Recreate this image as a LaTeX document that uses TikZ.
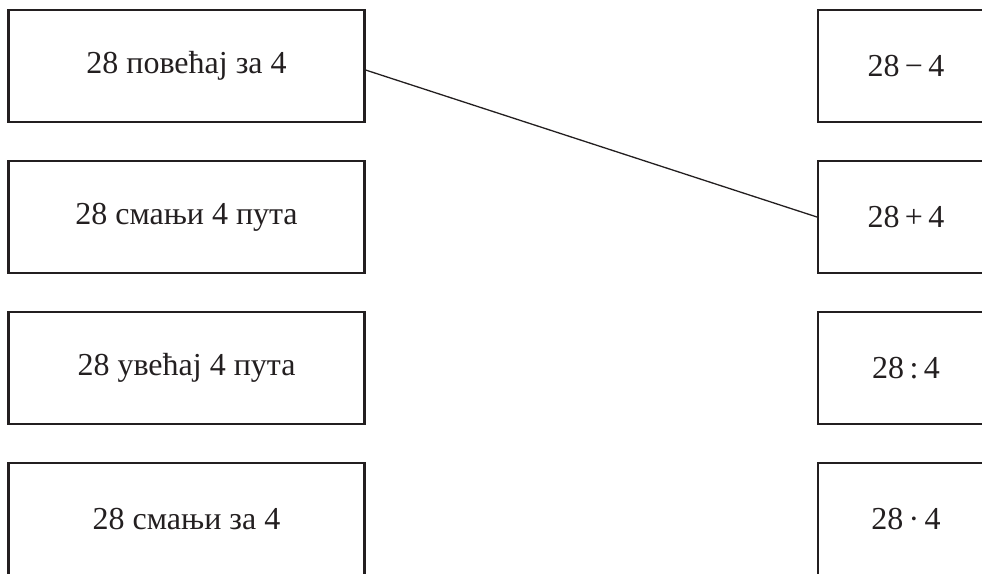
\documentclass[tikz,border=0pt]{standalone}
\usepackage{fontspec}
\setmainfont{Liberation Serif}
\definecolor{ink}{HTML}{231F20}
\begin{document}
\begin{tikzpicture}[x=1pt,y=-1pt,
  lbox/.style={draw=ink,line width=2.1pt,rectangle,minimum width=356pt,minimum height=112.5pt,inner sep=0pt,text=ink,font=\fontsize{32}{38}\selectfont},
  rbox/.style={draw=ink,line width=2.1pt,rectangle,minimum width=176pt,minimum height=112.5pt,inner sep=0pt,text=ink,font=\fontsize{32}{38}\selectfont},
  link/.style={draw=ink,line width=1.3pt}]
\useasboundingbox (0,0) rectangle (982,573);
\clip (0,0) rectangle (982,573);
\node[lbox] (l1) at (186.5,66) {28 повећај за 4};
\node[lbox] (l2) at (186.5,217) {28 смањи 4 пута};
\node[lbox] (l3) at (186.5,368) {28 увећај 4 пута};
\node[lbox] (l4) at (186.5,519) {28 смањи за 4};
\node[rbox] (r1) at (906,66) {28\,−\,4};
\node[rbox] (r2) at (906,217) {28\,+\,4};
\node[rbox] (r3) at (906,368) {28\,:\,4};
\node[rbox] (r4) at (906,519) {28\,·\,4};
\draw[link] ([yshift=-4pt]l1.east) -- (r2.west);
\end{tikzpicture}
\end{document}
